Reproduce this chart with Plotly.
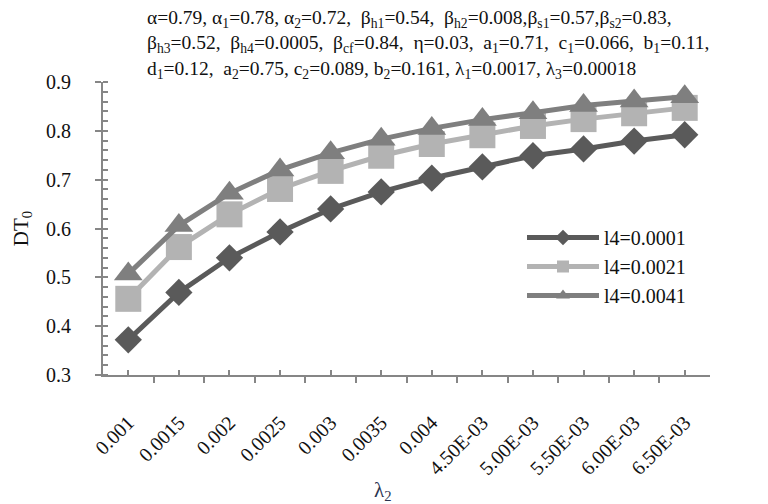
import plotly.graph_objects as go

categories = ["0.001", "0.0015", "0.002", "0.0025", "0.003", "0.0035", "0.004",
              "4.50E-03", "5.00E-03", "5.50E-03", "6.00E-03", "6.50E-03"]
series_names = ["l4=0.0001", "l4=0.0021", "l4=0.0041"]
dt_l4_0001 = [0.372, 0.469, 0.540, 0.593, 0.640, 0.675, 0.703, 0.726, 0.749, 0.763, 0.779, 0.792]
dt_l4_0021 = [0.456, 0.562, 0.629, 0.681, 0.718, 0.749, 0.773, 0.791, 0.810, 0.824, 0.836, 0.847]
dt_l4_0041 = [0.507, 0.606, 0.672, 0.720, 0.755, 0.783, 0.805, 0.823, 0.837, 0.852, 0.861, 0.870]

param_lines = [
    "α=0.79, α<sub>1</sub>=0.78, α<sub>2</sub>=0.72,  β<sub>h1</sub>=0.54,  "
    "β<sub>h2</sub>=0.008,β<sub>s1</sub>=0.57,β<sub>s2</sub>=0.83,",
    "β<sub>h3</sub>=0.52,  β<sub>h4</sub>=0.0005,  β<sub>cf</sub>=0.84,  η=0.03,  "
    "a<sub>1</sub>=0.71,  c<sub>1</sub>=0.066,  b<sub>1</sub>=0.11,",
    "d<sub>1</sub>=0.12,  a<sub>2</sub>=0.75, c<sub>2</sub>=0.089, b<sub>2</sub>=0.161, "
    "λ<sub>1</sub>=0.0017, λ<sub>3</sub>=0.00018",
]

x_pos = list(range(len(categories)))
FONT = "Liberation Serif, Times New Roman, serif"
AXIS_COLOR = "#868686"
TXT = "#111111"

fig = go.Figure()
styles = [
    dict(color="#5a5a5a", symbol="diamond", size=21),
    dict(color="#b3b3b3", symbol="square", size=26),
    dict(color="#7f7f7f", symbol="triangle-up", size=25),
]
for i, (name, vals, st) in enumerate(zip(series_names, [dt_l4_0001, dt_l4_0021, dt_l4_0041], styles)):
    fig.add_trace(go.Scatter(
        x=x_pos, y=vals, name=name, mode="lines+markers",
        line=dict(color=st["color"], width=5),
        marker=dict(color=st["color"], symbol=st["symbol"], size=st["size"], line=dict(width=0)),
    ))

L, R, T, B = 103, 58, 82, 129
W, H = 768, 504
pw = W - L - R
ph = H - T - B


def px_to_paper_y(py):
    return (H - B - py) / ph


fig.add_annotation(
    text="<br>".join(param_lines), xref="paper", yref="paper",
    x=(145 - L) / pw, y=px_to_paper_y(5), xanchor="left", yanchor="top",
    align="left", showarrow=False, font=dict(family=FONT, size=19.5, color=TXT),
)

fig.add_annotation(
    text="λ<sub>2</sub>", xref="paper", yref="paper",
    x=(383 - L) / pw, y=px_to_paper_y(491), xanchor="center", yanchor="middle",
    showarrow=False, font=dict(family=FONT, size=21, color="#2a3350"),
)

fig.update_layout(
    width=W, height=H,
    margin=dict(l=L, r=R, t=T, b=B),
    paper_bgcolor="white", plot_bgcolor="white",
    font=dict(family=FONT, size=20, color=TXT),
    showlegend=True,
    legend=dict(
        x=(522 - L) / pw, y=px_to_paper_y(218), xanchor="left", yanchor="top",
        font=dict(family=FONT, size=20, color=TXT),
        bgcolor="rgba(0,0,0,0)", itemwidth=72, itemsizing="constant",
        tracegroupgap=0,
    ),
    xaxis=dict(
        range=[-0.5, len(categories) - 0.5],
        tickmode="array", tickvals=x_pos, ticktext=categories,
        tickangle=-45, ticks="inside", ticklen=5, tickwidth=2, tickcolor=AXIS_COLOR,
        ticklabelstandoff=26,
        minor=dict(tickmode="array", tickvals=[i - 0.5 for i in range(len(categories) + 1)],
                   ticks="outside", ticklen=6, tickwidth=2, tickcolor=AXIS_COLOR, showgrid=False),
        showline=True, linecolor=AXIS_COLOR, linewidth=2,
        showgrid=False, zeroline=False,
        tickfont=dict(family=FONT, size=20, color=TXT),
    ),
    yaxis=dict(
        range=[0.3, 0.9], dtick=0.1, tickformat=".1f",
        ticks="outside", ticklen=6, tickwidth=2, tickcolor=AXIS_COLOR,
        ticklabelstandoff=20,
        minor=dict(dtick=0.02, ticks="inside", ticklen=5, tickwidth=1.5, tickcolor=AXIS_COLOR, showgrid=False),
        showline=True, linecolor=AXIS_COLOR, linewidth=2,
        showgrid=False, zeroline=False,
        tickfont=dict(family=FONT, size=20, color=TXT),
        title=dict(text="DT<sub>0</sub>", font=dict(family=FONT, size=21, color=TXT), standoff=12),
    ),
)

fig.write_html("out.html")
